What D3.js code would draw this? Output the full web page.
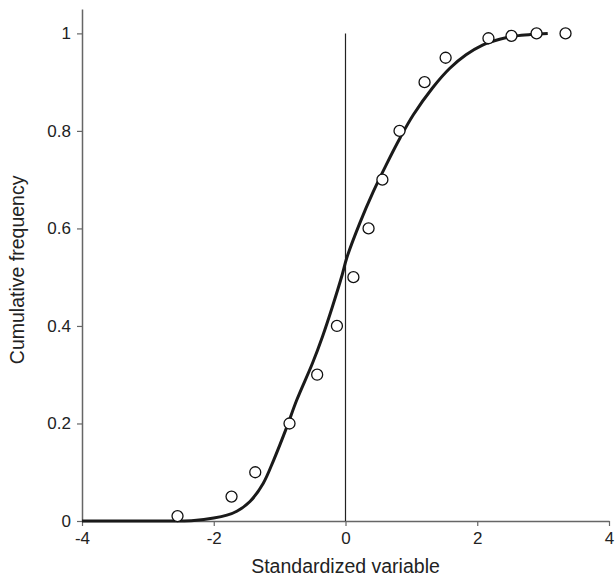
<!DOCTYPE html>
<html>
<head>
<meta charset="utf-8">
<style>
  body { margin: 0; background: #fff; }
  text { font-family: "Liberation Sans", Arial, sans-serif; fill: #222; }
</style>
</head>
<body>
<svg width="615" height="579"></svg>
<script src="https://d3js.org/d3.v7.min.js"></script>
<script>

// observed points
var obsX = [-2.55, -1.73, -1.37, -0.85, -0.43, -0.13, 0.12, 0.35, 0.56, 0.82, 1.20, 1.52, 2.17, 2.52, 2.90, 3.34],
    obsY = [0.01, 0.05, 0.10, 0.20, 0.30, 0.40, 0.50, 0.60, 0.70, 0.80, 0.90, 0.95, 0.99, 0.995, 1.0, 1.0];

// fitted curve
var fitX = [-4, -2.6, -2.3, -2.0, -1.8, -1.65, -1.45, -1.25, -1.09, -0.89, -0.74, -0.5, -0.35, -0.2, -0.05, 0.02, 0.22, 0.42, 0.62, 0.83, 1.03, 1.32, 1.58, 1.83, 2.08, 2.34, 2.59, 2.84, 3.07],
    fitY = [0, 0, 0.001, 0.006, 0.012, 0.02, 0.04, 0.077, 0.125, 0.193, 0.248, 0.324, 0.378, 0.439, 0.505, 0.54, 0.612, 0.675, 0.731, 0.786, 0.833, 0.888, 0.928, 0.956, 0.976, 0.988, 0.995, 0.998, 1.0];

var xTicks = [-4, -2, 0, 2, 4],
    yTicks = [0, 0.2, 0.4, 0.6, 0.8, 1];

var svg = d3.select("svg");

var x = d3.scaleLinear().domain([-4, 4]).range([82, 609]),
    y = d3.scaleLinear().domain([0, 1.05]).range([521, 9]);

var plain = function(d) { return String(d); };

// x axis
var gx = svg.append("g").attr("transform", "translate(0," + y(0) + ")")
    .call(d3.axisBottom(x).tickValues(xTicks).tickSize(5).tickSizeOuter(0).tickFormat(plain));
gx.select(".domain").attr("stroke", "#666").attr("stroke-width", 1.5);
gx.selectAll(".tick line").attr("stroke", "#666").attr("stroke-width", 1.2);
gx.selectAll(".tick text").attr("font-size", 17).attr("dy", "0.9em").attr("fill", "#222")
    .attr("font-family", "Liberation Sans, Arial, sans-serif");

// y axis
var gy = svg.append("g").attr("transform", "translate(" + x(-4) + ",0)")
    .call(d3.axisLeft(y).tickValues(yTicks).tickSize(5).tickSizeOuter(0).tickFormat(plain));
gy.select(".domain").attr("stroke", "#666").attr("stroke-width", 1.5);
gy.selectAll(".tick line").attr("stroke", "#666").attr("stroke-width", 1.2);
gy.selectAll(".tick text").attr("font-size", 17).attr("x", -11).attr("fill", "#222")
    .attr("font-family", "Liberation Sans, Arial, sans-serif");

// vertical line at zero
svg.append("line")
    .attr("x1", x(0)).attr("x2", x(0))
    .attr("y1", y(1)).attr("y2", y(0))
    .attr("stroke", "#222").attr("stroke-width", 1.2);

// fitted curve
var line = d3.line()
    .x(function(d, i) { return x(fitX[i]); })
    .y(function(d, i) { return y(fitY[i]); })
    .curve(d3.curveCatmullRom);

svg.append("path")
    .datum(fitX)
    .attr("d", line)
    .attr("fill", "none")
    .attr("stroke", "#1a1a1a")
    .attr("stroke-width", 3);

// points
svg.append("g").selectAll("circle")
    .data(obsX)
    .enter().append("circle")
    .attr("cx", function(d) { return x(d); })
    .attr("cy", function(d, i) { return y(obsY[i]); })
    .attr("r", 5.5)
    .attr("fill", "#fff")
    .attr("stroke", "#111")
    .attr("stroke-width", 1.3);

// axis titles
svg.append("text")
    .attr("x", x(0)).attr("y", 573)
    .attr("text-anchor", "middle")
    .attr("font-size", 19.5)
    .text("Standardized variable");

svg.append("text")
    .attr("transform", "translate(24," + y(0.515) + ") rotate(-90)")
    .attr("text-anchor", "middle")
    .attr("font-size", 19.5)
    .text("Cumulative frequency");

</script>
</body>
</html>
